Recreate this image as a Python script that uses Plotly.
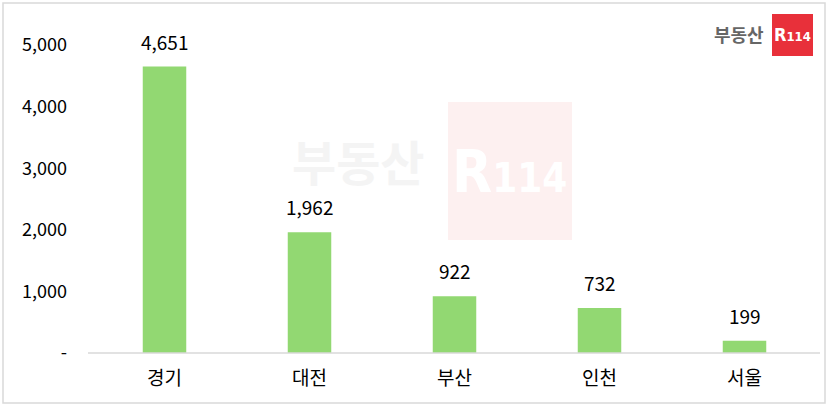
import plotly.graph_objects as go

categories = ["경기", "대전", "부산", "인천", "서울"]
values = [4651, 1962, 922, 732, 199]
tick_vals = [0, 1000, 2000, 3000, 4000, 5000]
tick_text = ["-", "1,000", "2,000", "3,000", "4,000", "5,000"]

W, H = 828, 406
L, R, T, B = 92, 11, 45, 53
PW, PH = W - L - R, H - T - B

def px(x):
    return (x - L) / PW

def py(y):
    return (H - B - y) / PH

FONT = "Noto Sans CJK KR"
BAR = "#92D872"

fig = go.Figure()
fig.add_trace(go.Bar(x=categories, y=values, marker=dict(color=BAR, line=dict(width=0)),
                     hoverinfo="skip"))

annotations = []
for c, v in zip(categories, values):
    annotations.append(dict(x=c, y=v, xref="x", yref="y", text=f"{v:,}", showarrow=False,
                            yanchor="bottom", yshift=10,
                            font=dict(family=FONT, size=19, color="#000000")))

# watermark
annotations.append(dict(x=px(358), y=py(160), xref="paper", yref="paper", text="<b>부동산</b>",
                        showarrow=False, xanchor="center", yanchor="middle",
                        font=dict(family=FONT, size=48, color="#F4F4F4")))
annotations.append(dict(x=px(510), y=py(172), xref="paper", yref="paper",
                        text="<b>R<span style='font-size:40px'>114</span></b>",
                        showarrow=False, xanchor="center", yanchor="middle",
                        font=dict(family="DejaVu Sans Condensed", size=58, color="#FFFFFF")))
# logo
annotations.append(dict(x=px(739), y=py(34), xref="paper", yref="paper", text="<b>부동산</b>",
                        showarrow=False, xanchor="center", yanchor="middle",
                        font=dict(family=FONT, size=18, color="#666666")))
annotations.append(dict(x=px(792.5), y=py(35), xref="paper", yref="paper",
                        text="<b>R<span style='font-size:13px'>114</span></b>",
                        showarrow=False, xanchor="center", yanchor="middle",
                        font=dict(family="DejaVu Sans Condensed", size=18, color="#FFFFFF")))

shapes = [
    dict(type="rect", xref="paper", yref="paper", x0=px(448), x1=px(572), y0=py(240), y1=py(102),
         fillcolor="#FDF0F0", line=dict(width=0), layer="below"),
    dict(type="rect", xref="paper", yref="paper", x0=px(772), x1=px(813), y0=py(56), y1=py(14),
         fillcolor="#E8303A", line=dict(width=0), layer="below"),
    dict(type="line", xref="paper", yref="paper", x0=px(88), x1=px(820), y0=py(353), y1=py(353),
         line=dict(color="#D9D9D9", width=1.5)),
    dict(type="rect", xref="paper", yref="paper", x0=px(3), x1=px(825), y0=py(403), y1=py(3),
         line=dict(color="#D9D9D9", width=1.5), fillcolor="rgba(0,0,0,0)"),
]

fig.update_layout(
    width=W, height=H,
    margin=dict(l=L, r=R, t=T, b=B, pad=0),
    paper_bgcolor="white", plot_bgcolor="white",
    showlegend=False,
    bargap=0.7,
    font=dict(family=FONT, color="#000000"),
    annotations=annotations,
    shapes=shapes,
    xaxis=dict(showgrid=False, showline=False, zeroline=False, ticks="",
               tickfont=dict(family=FONT, size=19, color="#000000"), ticklabelstandoff=12),
    yaxis=dict(range=[0, 5000], tickvals=tick_vals, ticktext=tick_text, showgrid=False,
               showline=False, zeroline=False, ticks="",
               tickfont=dict(family=FONT, size=18, color="#000000"), ticklabelstandoff=24),
)

fig.write_html("out.html", config={"displayModeBar": False},
               post_script="document.body.style.margin='0';document.body.style.overflow='hidden';")
